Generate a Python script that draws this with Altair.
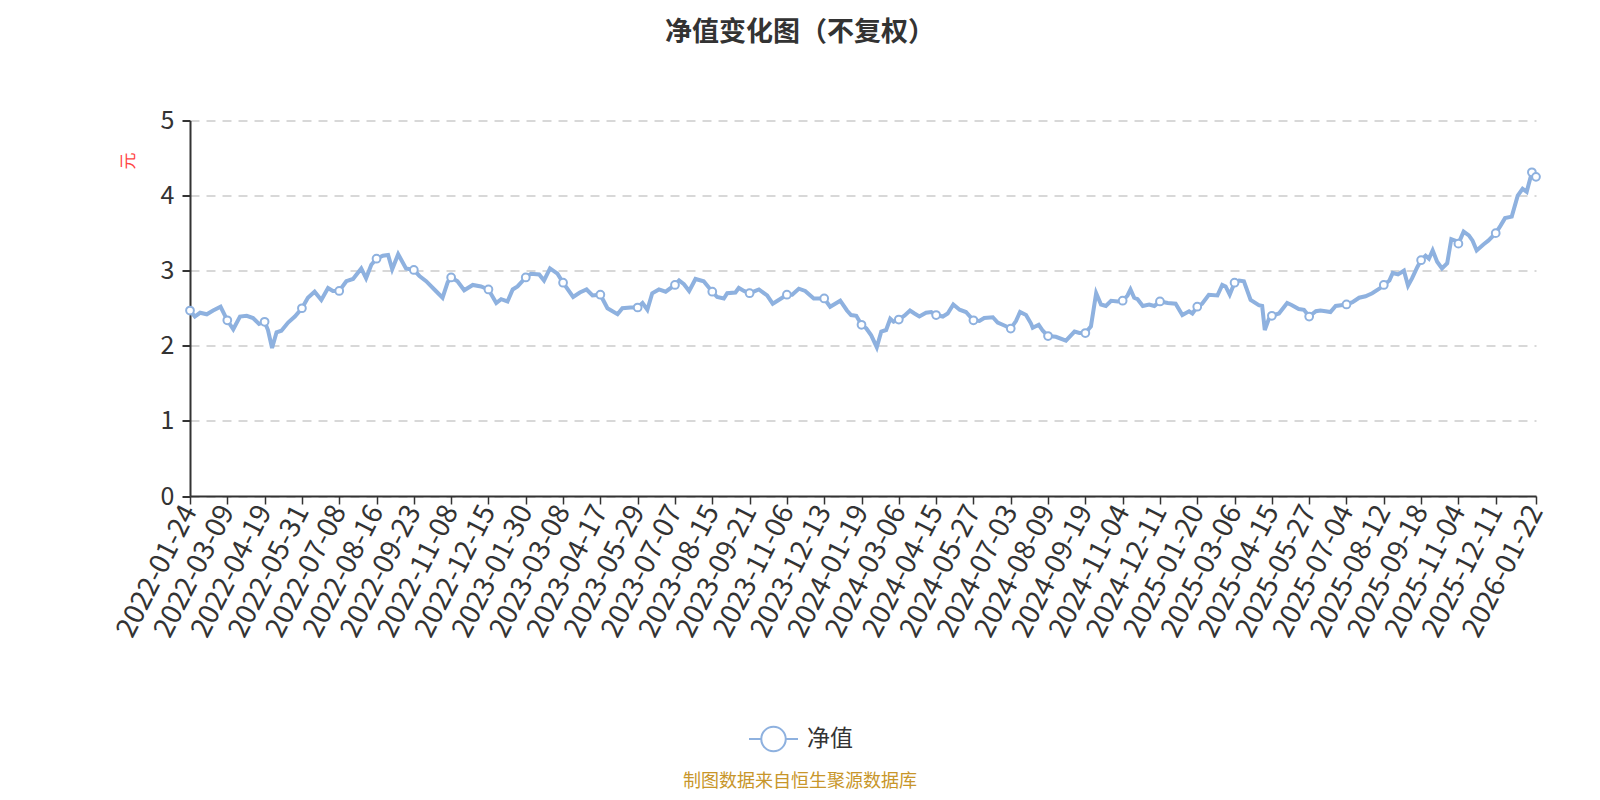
import altair as alt
import pandas as pd

tick_labels = [
    "2022-01-24", "2022-03-09", "2022-04-19", "2022-05-31", "2022-07-08", "2022-08-16",
    "2022-09-23", "2022-11-08", "2022-12-15", "2023-01-30", "2023-03-08", "2023-04-17",
    "2023-05-29", "2023-07-07", "2023-08-15", "2023-09-21", "2023-11-06", "2023-12-13",
    "2024-01-19", "2024-03-06", "2024-04-15", "2024-05-27", "2024-07-03", "2024-08-09",
    "2024-09-19", "2024-11-04", "2024-12-11", "2025-01-20", "2025-03-06", "2025-04-15",
    "2025-05-27", "2025-07-04", "2025-08-12", "2025-09-18", "2025-11-04", "2025-12-11",
    "2026-01-22",
]

# position along the category axis, in units of label intervals
pos = [
    0.00, 0.13, 0.27, 0.45, 0.62, 0.82, 1.00, 1.16, 1.34, 1.52,
    1.69, 1.85, 2.00, 2.09, 2.20, 2.32, 2.45, 2.63, 2.81, 3.00,
    3.16, 3.34, 3.52, 3.70, 3.83, 4.00, 4.19, 4.37, 4.59, 4.72,
    4.86, 5.00, 5.17, 5.31, 5.42, 5.58, 5.79, 6.00, 6.15, 6.33,
    6.55, 6.77, 6.91, 7.00, 7.17, 7.35, 7.58, 7.80, 8.00, 8.21,
    8.34, 8.51, 8.65, 8.78, 9.00, 9.14, 9.36, 9.49, 9.65, 9.85,
    10.00, 10.27, 10.45, 10.63, 10.79, 11.00, 11.19, 11.46, 11.59, 11.81,
    12.00, 12.13, 12.26, 12.39, 12.57, 12.75, 13.00, 13.11, 13.24, 13.38,
    13.55, 13.77, 14.00, 14.13, 14.31, 14.40, 14.62, 14.71, 14.85, 15.00,
    15.25, 15.47, 15.62, 15.78, 16.00, 16.14, 16.32, 16.49, 16.72, 17.00,
    17.16, 17.43, 17.61, 17.72, 17.86, 18.00, 18.13, 18.26, 18.41, 18.53,
    18.66, 18.77, 18.86, 19.00, 19.15, 19.30, 19.42, 19.55, 19.73, 19.87,
    20.00, 20.18, 20.31, 20.46, 20.63, 20.80, 21.00, 21.16, 21.29, 21.52,
    21.65, 21.83, 22.00, 22.14, 22.25, 22.41, 22.54, 22.59, 22.75, 22.86,
    23.00, 23.21, 23.48, 23.71, 23.84, 24.00, 24.15, 24.29, 24.42, 24.55,
    24.69, 24.87, 25.00, 25.13, 25.21, 25.31, 25.40, 25.54, 25.71, 25.85,
    26.00, 26.21, 26.42, 26.60, 26.78, 26.87, 27.00, 27.13, 27.31, 27.54,
    27.67, 27.76, 27.87, 28.00, 28.12, 28.25, 28.43, 28.65, 28.74, 28.81,
    28.92, 29.00, 29.19, 29.41, 29.54, 29.72, 29.86, 30.00, 30.18, 30.30,
    30.44, 30.57, 30.71, 30.85, 31.00, 31.16, 31.34, 31.51, 31.69, 31.88,
    32.00, 32.15, 32.24, 32.38, 32.54, 32.65, 32.76, 32.90, 33.00, 33.12,
    33.21, 33.31, 33.43, 33.56, 33.70, 33.81, 33.92, 34.00, 34.14, 34.28,
    34.38, 34.49, 34.67, 34.80, 35.00, 35.13, 35.25, 35.43, 35.59, 35.72,
    35.83, 35.97, 36.08,
]

nav = [
    2.47, 2.39, 2.44, 2.42, 2.47, 2.52, 2.34, 2.22, 2.39, 2.40,
    2.37, 2.29, 2.32, 2.21, 1.97, 2.18, 2.20, 2.31, 2.39, 2.50,
    2.64, 2.72, 2.61, 2.77, 2.73, 2.73, 2.86, 2.89, 3.03, 2.90,
    3.08, 3.16, 3.20, 3.21, 3.02, 3.22, 3.03, 3.01, 2.93, 2.86,
    2.75, 2.64, 2.85, 2.91, 2.86, 2.74, 2.81, 2.79, 2.75, 2.57,
    2.62, 2.59, 2.75, 2.79, 2.91, 2.96, 2.95, 2.87, 3.03, 2.96,
    2.84, 2.65, 2.71, 2.75, 2.67, 2.68, 2.50, 2.42, 2.50, 2.51,
    2.51, 2.57, 2.48, 2.70, 2.75, 2.72, 2.81, 2.87, 2.82, 2.73,
    2.89, 2.86, 2.72, 2.65, 2.63, 2.70, 2.71, 2.77, 2.73, 2.70,
    2.75, 2.67, 2.56, 2.61, 2.68, 2.68, 2.76, 2.73, 2.63, 2.63,
    2.52, 2.60, 2.47, 2.41, 2.40, 2.28, 2.23, 2.14, 1.98, 2.19,
    2.21, 2.36, 2.32, 2.35, 2.40, 2.47, 2.43, 2.39, 2.44, 2.45,
    2.41, 2.39, 2.43, 2.55, 2.48, 2.45, 2.34, 2.33, 2.37, 2.38,
    2.31, 2.27, 2.23, 2.33, 2.45, 2.41, 2.30, 2.24, 2.28, 2.20,
    2.13, 2.12, 2.07, 2.19, 2.17, 2.17, 2.26, 2.70, 2.55, 2.53,
    2.60, 2.59, 2.60, 2.67, 2.75, 2.64, 2.62, 2.53, 2.55, 2.53,
    2.59, 2.57, 2.56, 2.41, 2.46, 2.43, 2.52, 2.56, 2.68, 2.67,
    2.81, 2.79, 2.68, 2.84, 2.87, 2.86, 2.61, 2.54, 2.53, 2.21,
    2.36, 2.40, 2.43, 2.57, 2.54, 2.49, 2.48, 2.39, 2.46, 2.47,
    2.46, 2.45, 2.53, 2.54, 2.55, 2.58, 2.64, 2.66, 2.70, 2.76,
    2.81, 2.87, 2.97, 2.95, 3.00, 2.80, 2.90, 3.05, 3.14, 3.20,
    3.16, 3.27, 3.12, 3.03, 3.10, 3.42, 3.40, 3.36, 3.52, 3.47,
    3.40, 3.27, 3.35, 3.40, 3.50, 3.60, 3.70, 3.72, 4.00, 4.09,
    4.05, 4.31, 4.25,
]
assert len(pos) == len(nav)

series_name = "净值"
line_color = "#8eb1df"
font = "Noto Sans CJK SC"

df = pd.DataFrame({"pos": pos, "nav": nav, "series": series_name})
df["marker"] = [(p == int(p)) or (i >= len(pos) - 2) for i, p in enumerate(pos)]
markers = df[df["marker"]]

x_end = pos[-1]
tick_vals = [float(v) for v in range(len(tick_labels) - 1)] + [x_end]
label_arr = "[" + ",".join("'" + s + "'" for s in tick_labels) + "]"
label_expr = label_arr + "[round(datum.value)]"

x_axis = alt.Axis(
    values=tick_vals, labelExpr=label_expr, labelAngle=-63, labelAlign="right",
    labelBaseline="middle", labelFontSize=28, labelFont=font, labelColor="#333",
    labelPadding=3, labelOverlap=False, labelFlush=False, tickSize=8, tickColor="#333",
    tickWidth=1.5, domainColor="#333", domainWidth=2, grid=False, title=None,
)
y_axis = alt.Axis(
    values=[0, 1, 2, 3, 4, 5], format="d", labelFontSize=25, labelFont=font,
    labelColor="#333", labelPadding=8, tickSize=8, tickColor="#333", tickWidth=2,
    domainColor="#333", domainWidth=2, grid=True, gridColor="#cccccc",
    gridDash=[9, 7], gridWidth=1.5, title="元", titleColor="#ff4444", titleFontSize=17,
    titleFont=font, titleFontWeight="normal", titleAngle=-90, titleX=-62, titleY=40,
    titleAlign="center", titleBaseline="middle",
)
x_scale = alt.Scale(domain=[0, x_end], nice=False, zero=False)
y_scale = alt.Scale(domain=[0, 5], nice=False)

legend_symbol = "M-1,0L-0.5,0M0.5,0L1,0M-0.5,0A0.5,0.5,0,1,1,0.5,0A0.5,0.5,0,1,1,-0.5,0Z"

line = alt.Chart(df).mark_line(strokeWidth=4, interpolate="linear").encode(
    x=alt.X("pos:Q", scale=x_scale, axis=x_axis),
    y=alt.Y("nav:Q", scale=y_scale, axis=y_axis),
    stroke=alt.Stroke(
        "series:N",
        scale=alt.Scale(domain=[series_name], range=[line_color]),
        legend=alt.Legend(
            title=None, orient="none", legendX=558, legendY=593, direction="horizontal",
            symbolType=legend_symbol, symbolSize=2401, symbolStrokeWidth=2,
            symbolFillColor="white", labelFontSize=23, labelFont=font, labelColor="#333",
            labelOffset=8,
        ),
    ),
)

points = alt.Chart(markers).mark_point(
    shape="circle", filled=True, fill="white", stroke=line_color, strokeWidth=2,
    size=60, opacity=1,
).encode(
    x=alt.X("pos:Q", scale=x_scale, axis=x_axis),
    y=alt.Y("nav:Q", scale=y_scale, axis=y_axis),
)

footer_df = pd.DataFrame({"t": ["制图数据来自恒生聚源数据库"]})
footer = alt.Chart(footer_df).mark_text(
    fontSize=18, font=font, color="#c8962a", align="center", baseline="middle"
).encode(x=alt.value(610), y=alt.value(661), text="t:N")

chart = (
    alt.layer(line, points, footer)
    .properties(
        width=1346,
        height=375.5,
        background="white",
        title=alt.TitleParams(
            "净值变化图（不复权）", fontSize=27, fontWeight="bold", color="#333", font=font,
            anchor="middle", dx=-63, offset=62,
        ),
        autosize=alt.AutoSizeParams(type="none"),
        padding={"left": 182, "top": 112.5, "right": 40, "bottom": 296},
    )
    .configure_view(stroke=None)
)

chart.save("out.html", embed_options={"renderer": "svg", "actions": False})
